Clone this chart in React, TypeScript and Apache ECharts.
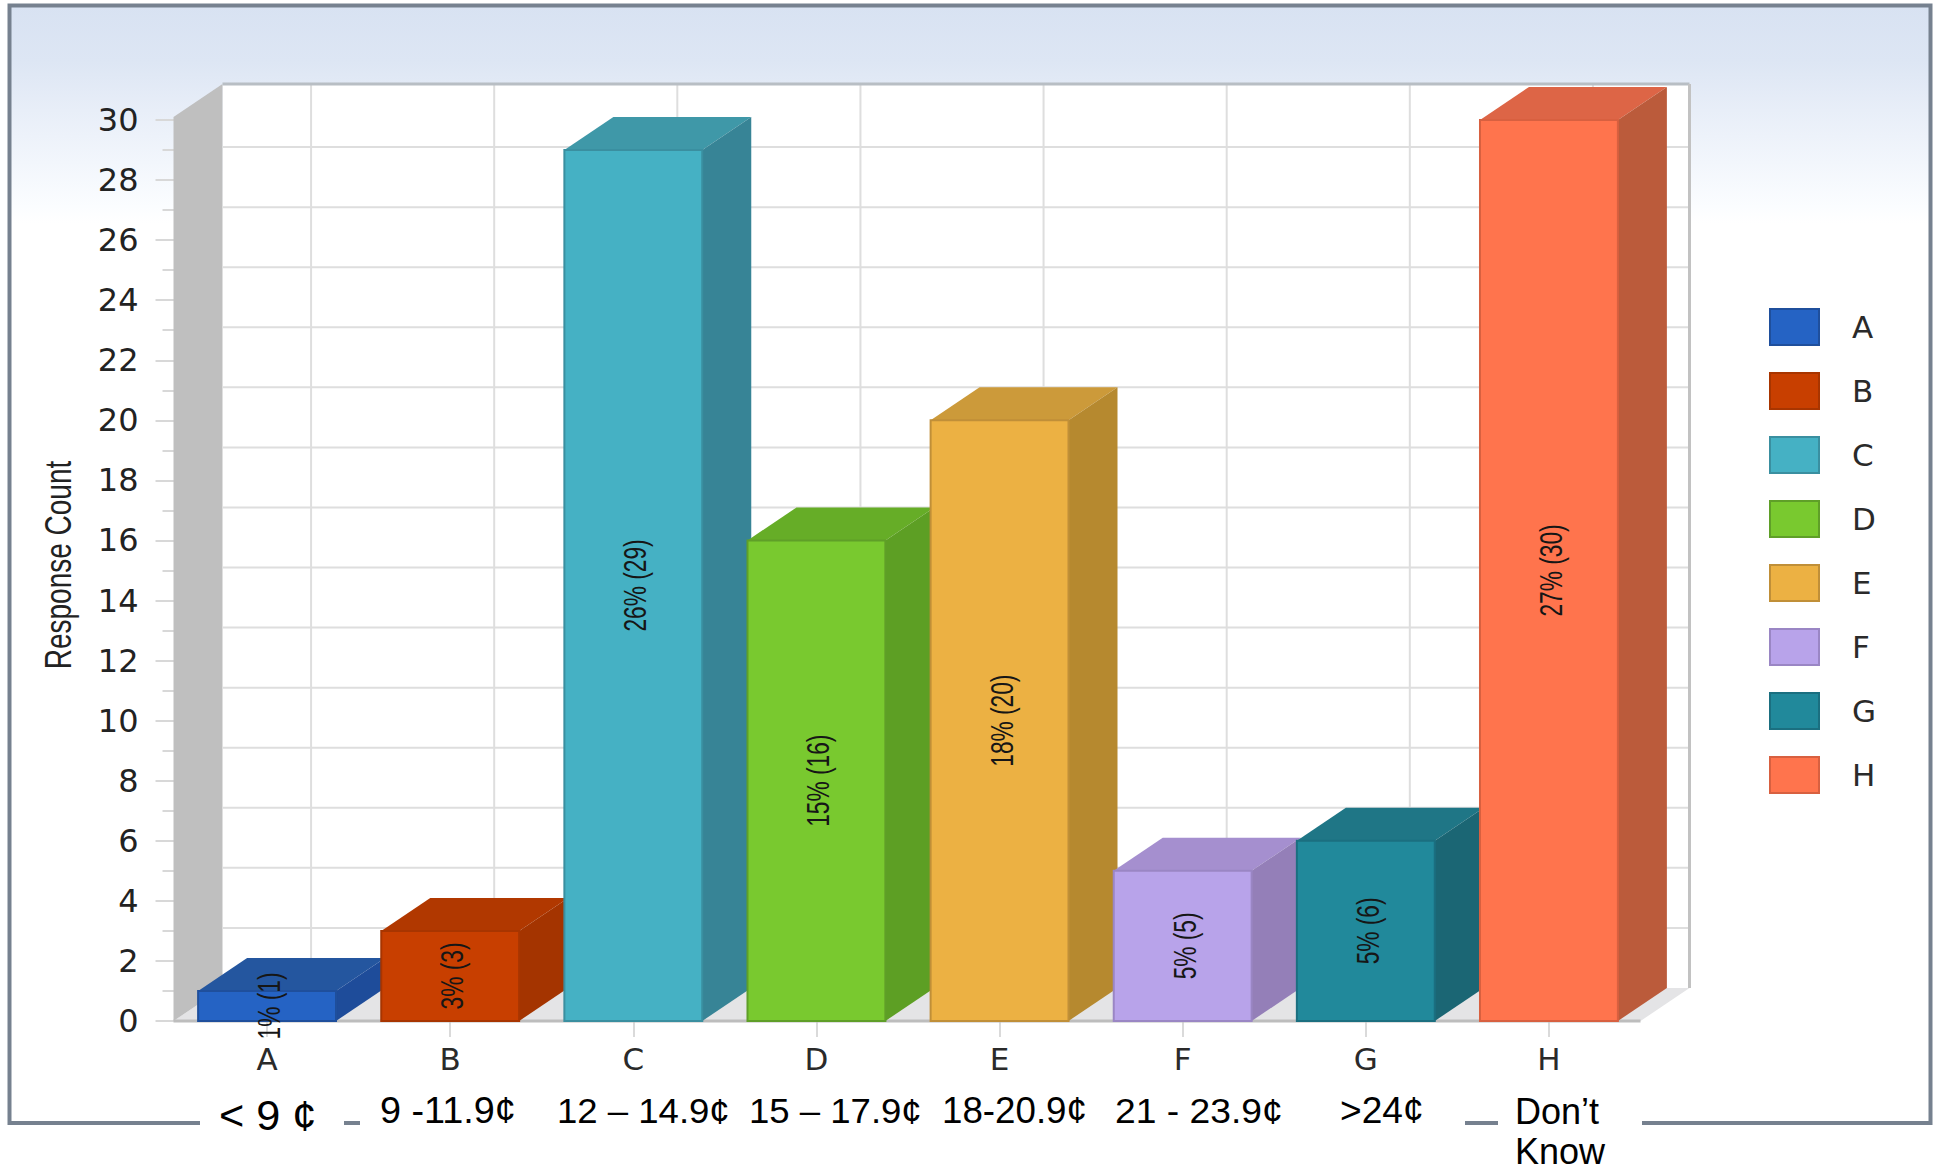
import React, { useEffect, useRef } from "react";
import * as echarts from "echarts";

const categories = ["A", "B", "C", "D", "E", "F", "G", "H"];
const counts = [1, 3, 29, 16, 20, 5, 6, 30];
const percents = [1, 3, 26, 15, 18, 5, 5, 27];
const frontColors = ["#2563c4", "#c83f00", "#45b1c4", "#79c92f", "#ecb143", "#b8a3ea", "#21899b", "#ff744d"];
const topColors = ["#24569f", "#b13800", "#3f98a8", "#66ad27", "#cc9a3a", "#a58fcf", "#1f7686", "#dd6546"];
const sideColors = ["#1e4c9a", "#a43400", "#378496", "#5d9f24", "#b6892f", "#947fb8", "#1b6674", "#bb5b3b"];
const edgeColors = ["#1f4f9c", "#a83500", "#3a8fa0", "#5f9f28", "#c08f38", "#9a86c4", "#1b6f80", "#d86040"];
const gridValues = [2, 4, 6, 8, 10, 12, 14, 16, 18, 20, 22, 24, 26, 28];
const priceLabels = ["< 9 ¢", "9 -11.9¢", "12 – 14.9¢", "15 – 17.9¢", "18-20.9¢", "21 - 23.9¢", ">24¢", "Don’t", "Know"];
const priceX = [219, 380, 557, 749, 942, 1115, 1340, 1515, 1515];
const priceY = [1115, 1111, 1111, 1111, 1111, 1111, 1111, 1111, 1151];
const priceSize = [42, 36, 36, 36, 36, 36, 36, 36, 36];
const priceStretch = [1.03, 1.05, 1.015, 1.015, 1.02, 1.035, 1.03, 1, 1];

const DX = 49;
const DY = 33;
const WALL_SHIFT = 2;

function renderWalls(params: any, api: any) {
  const cs = params.coordSys;
  const l = cs.x - WALL_SHIFT, r = cs.x + cs.width, t = cs.y, b = cs.y + cs.height;
  const children: any[] = [
    { type: "rect", shape: { x: l + DX, y: t - DY - 3, width: r - l, height: b - t + 3 }, style: { fill: "#ffffff" } },
    { type: "polygon", shape: { points: [[l, b], [l + DX, b - DY], [r + DX, b - DY], [r, b]] }, style: { fill: "#e4e4e6" } },
    { type: "polygon", shape: { points: [[l, b], [l + DX, b - DY], [l + DX, t - DY - 3], [l, t - 3]] }, style: { fill: "#bfbfbf" } },
  ];
  gridValues.forEach((v) => {
    const y = api.coord([0, v])[1] - DY;
    children.push({ type: "line", shape: { x1: l + DX, y1: y, x2: r + DX, y2: y }, style: { stroke: "#dedede", lineWidth: 2 } });
  });
  categories.forEach((_, i) => {
    const x = api.coord([i, 0])[0] + DX - 5;
    children.push({ type: "line", shape: { x1: x, y1: t - DY - 3, x2: x, y2: b - DY }, style: { stroke: "#dedede", lineWidth: 2 } });
  });
  children.push(
    { type: "line", shape: { x1: l + DX, y1: t - DY - 3, x2: r + DX, y2: t - DY - 3 }, style: { stroke: "#b8bec4", lineWidth: 3 } },
    { type: "line", shape: { x1: r + DX, y1: t - DY - 3, x2: r + DX, y2: b - DY }, style: { stroke: "#c2c2c2", lineWidth: 3 } },
    { type: "line", shape: { x1: l, y1: b, x2: r, y2: b }, style: { stroke: "#bdbdbd", lineWidth: 3 } }
  );
  return { type: "group", children };
}

const renderBar = (index: number) => (_params: any, api: any) => {
  const [cx, yTop] = api.coord([api.value(0), api.value(1)]);
  const [, yBase] = api.coord([api.value(0), 0]);
  const width = api.size([1, 0])[0] * 0.753;
  const l = cx - width / 2;
  const r = cx + width / 2;
  return {
    type: "group",
    children: [
      {
        type: "polygon",
        shape: { points: [[l, yTop], [l + DX, yTop - DY], [r + DX, yTop - DY], [r, yTop]] },
        style: { fill: topColors[index] },
      },
      {
        type: "polygon",
        shape: { points: [[r, yBase], [r + DX, yBase - DY], [r + DX, yTop - DY], [r, yTop]] },
        style: { fill: sideColors[index] },
      },
      {
        type: "rect",
        shape: { x: l, y: yTop, width, height: yBase - yTop },
        style: { fill: frontColors[index], stroke: edgeColors[index], lineWidth: 2 },
      },
      {
        type: "text",
        x: cx + 2,
        y: (yTop + yBase) / 2,
        rotation: Math.PI / 2,
        scaleX: 0.71,
        style: {
          text: `${percents[index]}% (${counts[index]})`,
          x: 0,
          y: 0,
          align: "center",
          verticalAlign: "middle",
          fill: "#161616",
          font: "32px 'Liberation Sans'",
        },
      },
    ],
  };
};

export default function App() {
  const ref = useRef<HTMLDivElement>(null);
  useEffect(() => {
    const chart = echarts.init(ref.current!, undefined, { renderer: "svg" });
    chart.setOption({
      animation: false,
      backgroundColor: "#ffffff",
      grid: { left: 175.5, right: 292.5, top: 120, bottom: 149 },
      xAxis: {
        type: "category",
        data: categories,
        axisLine: { show: false },
        axisTick: { show: true, alignWithLabel: true, length: 16, lineStyle: { color: "#dadada", width: 2 } },
        axisLabel: { margin: 22, fontFamily: "DejaVu Sans", fontSize: 31, color: "#2a2a2a" },
      },
      yAxis: {
        type: "value",
        min: 0,
        max: 30,
        interval: 2,
        axisLine: { show: false },
        axisTick: { show: true, length: 20, lineStyle: { color: "#d8d8d8", width: 2 } },
        minorTick: { show: true, splitNumber: 2, length: 13, lineStyle: { color: "#d8d8d8", width: 2 } },
        splitLine: { show: false },
        axisLabel: { margin: 37, fontFamily: "DejaVu Sans", fontSize: 32, color: "#222222", padding: [0, 0, 4, 0] },
      },
      legend: {
        data: categories,
        orient: "vertical",
        left: 1769,
        top: 308,
        padding: 0,
        itemWidth: 49,
        itemHeight: 36,
        itemGap: 26,
        icon: "rect",
        selectedMode: false,
        textStyle: { fontFamily: "DejaVu Sans", fontSize: 31, color: "#2a2a2a", padding: [0, 0, 0, 28] },
      },
      graphic: [
        {
          type: "rect",
          z: -10,
          silent: true,
          shape: { x: 9.5, y: 5.5, width: 1921, height: 1117.5 },
          style: {
            stroke: "#76818f",
            lineWidth: 4,
            fill: {
              type: "linear",
              x: 0,
              y: 0,
              x2: 0,
              y2: 1,
              colorStops: [
                { offset: 0, color: "#d8e2f2" },
                { offset: 0.05, color: "#dde6f4" },
                { offset: 0.094, color: "#e8eef8" },
                { offset: 0.14, color: "#f2f6fc" },
                { offset: 0.18, color: "#fbfdff" },
                { offset: 0.195, color: "#ffffff" },
                { offset: 1, color: "#ffffff" },
              ],
            },
          },
        },
        {
          type: "text",
          z: 60,
          silent: true,
          x: 58,
          y: 565,
          rotation: Math.PI / 2,
          scaleX: 0.757,
          style: {
            text: "Response Count",
            x: 0,
            y: 0,
            align: "center",
            verticalAlign: "middle",
            fill: "#222222",
            font: "37px 'Liberation Sans'",
          },
        },
        { type: "rect", z: 50, silent: true, shape: { x: 200, y: 1116, width: 144, height: 14 }, style: { fill: "#ffffff" } },
        { type: "rect", z: 50, silent: true, shape: { x: 360, y: 1116, width: 1105, height: 14 }, style: { fill: "#ffffff" } },
        { type: "rect", z: 50, silent: true, shape: { x: 1498, y: 1116, width: 144, height: 14 }, style: { fill: "#ffffff" } },
        ...priceLabels.map((text, i) => ({
          type: "text",
          z: 60,
          silent: true,
          x: priceX[i],
          y: priceY[i],
          scaleX: priceStretch[i],
          style: {
            text,
            x: 0,
            y: 0,
            align: "left",
            verticalAlign: "middle",
            fill: "#000000",
            font: `${priceSize[i]}px 'Liberation Sans'`,
          },
        })),
      ],
      series: [
        {
          type: "custom",
          name: "walls",
          z: 1,
          silent: true,
          clip: false,
          data: [[0, 0]],
          encode: { x: 0, y: 1 },
          renderItem: renderWalls,
        },
        ...categories.map((name, i) => ({
          type: "custom",
          name,
          z: 2,
          clip: false,
          silent: true,
          itemStyle: { color: frontColors[i], borderColor: edgeColors[i], borderWidth: 2 },
          data: [[i, counts[i]]],
          encode: { x: 0, y: 1 },
          renderItem: renderBar(i),
        })),
      ],
    });
    return () => chart.dispose();
  }, []);
  return <div ref={ref} style={{ position: "absolute", left: 0, top: 0, width: 1933, height: 1170 }} />;
}
